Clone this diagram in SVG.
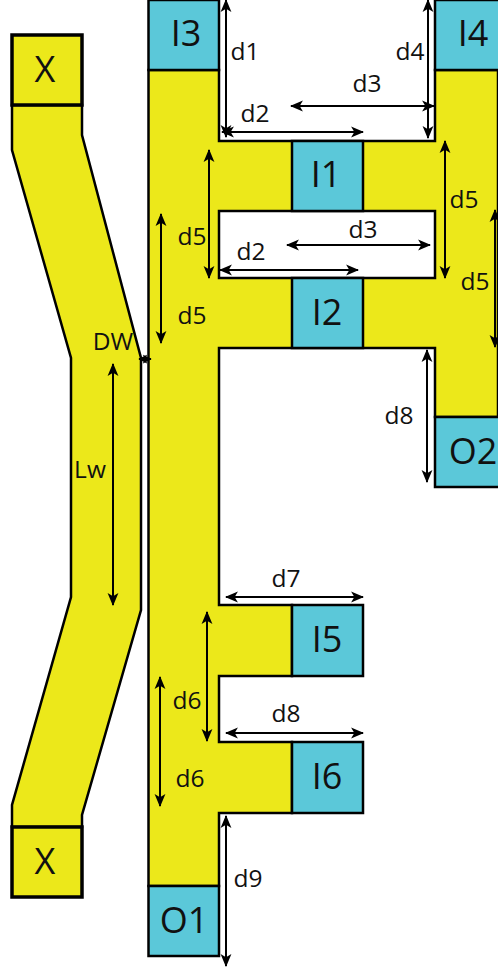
<svg xmlns="http://www.w3.org/2000/svg" width="498" height="972" viewBox="0 0 498 972">
<style>
.y{fill:#ece81a;stroke:#000;stroke-width:2.5;stroke-linejoin:miter}
.b{fill:#5bc8d9;stroke:#000;stroke-width:2.5}
.x{fill:#ece81a;stroke:#000;stroke-width:3.5}
.t{font-family:"Open Sans","Noto Sans",sans-serif;fill:#111;text-anchor:middle}
.n{font-size:36px}
.d{font-size:24.5px}
.a{fill:none;stroke:#000;stroke-width:2;marker-start:url(#h);marker-end:url(#h)}
.s{fill:none;stroke:#000;stroke-width:2;marker-start:url(#m);marker-end:url(#m)}
</style>
<defs>
<marker id="h" viewBox="0 0 12 12" refX="11" refY="6" markerWidth="13" markerHeight="13" markerUnits="userSpaceOnUse" orient="auto-start-reverse"><path d="M0 1L12 6L0 11L3 6Z" fill="#000"/></marker>
<marker id="m" viewBox="0 0 12 12" refX="11" refY="6" markerWidth="9" markerHeight="10" markerUnits="userSpaceOnUse" orient="auto-start-reverse"><path d="M0 0L12 6L0 12L3 6Z" fill="#000"/></marker>
</defs>
<g id="bodies">
<path id="wire" class="y" d="M12 105V150L71 358V597L12 805V827H82V815L141 610V358L82 135V105Z"/>
<path id="network" class="y" d="M148.500 70H219V141H435V70H498V417H435V348H219V605H292V676H219V742H292V813H219V886H148.500Z"/>
<path id="slot" d="M219 211H435V278H219Z" fill="#fff" stroke="#000" stroke-width="2.500"/>
</g>
<g id="X-top"><rect class="x" x="12" y="35" width="70" height="70"/><text class="t n" x="45" y="82">X</text></g>
<g id="X-bottom"><rect class="x" x="12" y="827" width="70" height="70"/><text class="t n" x="45" y="874">X</text></g>
<g id="I3"><rect class="b" x="148.500" y="0" width="70.500" height="70"/><text class="t n" x="186" y="46">I3</text></g>
<g id="I4"><rect class="b" x="435" y="0" width="70" height="70"/><text class="t n" x="473" y="46">I4</text></g>
<g id="I1"><rect class="b" x="292" y="141" width="71" height="70"/><text class="t n" x="326" y="187">I1</text></g>
<g id="I2"><rect class="b" x="292" y="278" width="71" height="70"/><text class="t n" x="327" y="325">I2</text></g>
<g id="O2"><rect class="b" x="435" y="417" width="70" height="70"/><text class="t n" x="473" y="464">O2</text></g>
<g id="I5"><rect class="b" x="292" y="605" width="71" height="71"/><text class="t n" x="327" y="652">I5</text></g>
<g id="I6"><rect class="b" x="292" y="742" width="71" height="71"/><text class="t n" x="327" y="789">I6</text></g>
<g id="O1"><rect class="b" x="148.500" y="886" width="70.500" height="70"/><text class="t n" x="184" y="933">O1</text></g>
<g id="connectors">
<path class="a" d="M226 0V137"/>
<path class="a" d="M222 132H363"/>
<path class="a" d="M291 106H434"/>
<path class="a" d="M428 0V138"/>
<path class="a" d="M209 150V278"/>
<path class="a" d="M161 214V343"/>
<path class="a" d="M445 141V278"/>
<path class="a" d="M495 210V347"/>
<path class="a" d="M220 270H358"/>
<path class="a" d="M287 245H430"/>
<path class="a" d="M427 350V482"/>
<path class="s" d="M139 359H151"/>
<path class="a" d="M113 364V605"/>
<path class="a" d="M226 597H363"/>
<path class="a" d="M207 612V741"/>
<path class="a" d="M160 677V806"/>
<path class="a" d="M226 733H363"/>
<path class="a" d="M226 816V966"/>
</g>
<g id="labels">
<text class="t d" x="245" y="60">d1</text>
<text class="t d" x="255" y="122">d2</text>
<text class="t d" x="367" y="92">d3</text>
<text class="t d" x="410" y="60">d4</text>
<text class="t d" x="464" y="208">d5</text>
<text class="t d" x="192" y="245">d5</text>
<text class="t d" x="192" y="324">d5</text>
<text class="t d" x="475" y="290">d5</text>
<text class="t d" x="251" y="260">d2</text>
<text class="t d" x="363" y="238">d3</text>
<text class="t d" x="399" y="424">d8</text>
<text class="t d" x="113" y="350">DW</text>
<text class="t d" x="90" y="478">Lw</text>
<text class="t d" x="286" y="587">d7</text>
<text class="t d" x="187" y="709">d6</text>
<text class="t d" x="190" y="787">d6</text>
<text class="t d" x="286" y="722">d8</text>
<text class="t d" x="248" y="887">d9</text>
</g>
</svg>
